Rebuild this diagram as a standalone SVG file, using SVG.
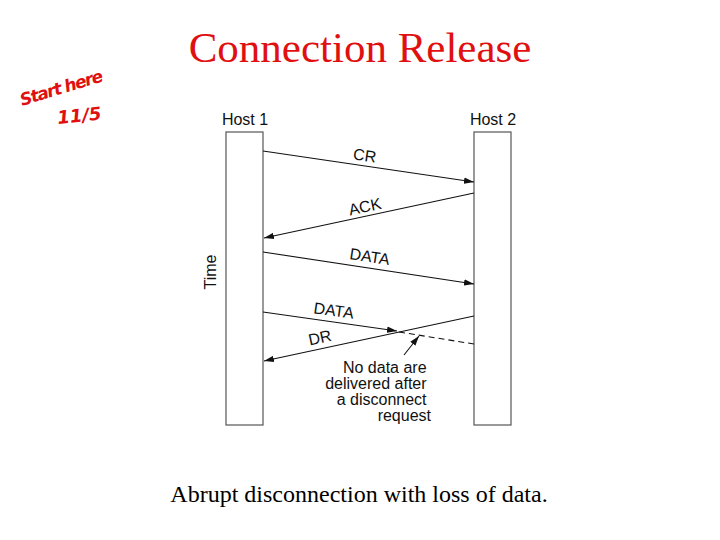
<svg xmlns="http://www.w3.org/2000/svg" width="720" height="540" viewBox="0 0 720 540">
<style>
.host{fill:#fff;stroke:#555;stroke-width:1.2}
.lbl{font-family:"Liberation Sans",Arial,sans-serif;font-size:16px;fill:#111}
.msg{stroke:#111;stroke-width:1.1;fill:none}
.dash{stroke:#111;stroke-width:1.1;fill:none;stroke-dasharray:6,4}
.title{font-family:"Liberation Serif","Times New Roman",serif;font-size:43px;fill:#e01010}
.cap{font-family:"Liberation Serif","Times New Roman",serif;font-size:24px;fill:#000}
.hand{font-family:"DejaVu Sans",sans-serif;font-style:italic;font-weight:bold;fill:#e01010}
</style>
<defs>
<marker id="ah" markerWidth="10" markerHeight="8" refX="10" refY="4" orient="auto" markerUnits="userSpaceOnUse">
<path d="M0,0.8 L10,4 L0,7.2 Z" fill="#111"/>
</marker>
</defs>
<rect width="720" height="540" fill="#fff"/>
<text class="title" x="360" y="62" text-anchor="middle">Connection Release</text>
<g id="annotation">
<text class="hand" font-size="17" x="22" y="106" textLength="86" transform="rotate(-17 22 106)">Start here</text>
<text class="hand" font-size="18" x="58" y="124" transform="rotate(-6 58 124)">11/5</text>
</g>
<g id="host1">
<text class="lbl" x="245" y="125" text-anchor="middle">Host 1</text>
<rect class="host" x="226" y="132" width="37" height="293"/>
</g>
<g id="host2">
<text class="lbl" x="493" y="125" text-anchor="middle">Host 2</text>
<rect class="host" x="474" y="132" width="37" height="293"/>
</g>
<text class="lbl" x="0" y="0" text-anchor="middle" transform="translate(216 272) rotate(-90)">Time</text>
<g id="connectors">
<line class="msg" x1="263" y1="151" x2="474" y2="182" marker-end="url(#ah)"/>
<text class="lbl" x="364" y="161" text-anchor="middle" transform="rotate(8.3 364 161)">CR</text>
<line class="msg" x1="474" y1="193" x2="264" y2="238" marker-end="url(#ah)"/>
<text class="lbl" x="366" y="212" text-anchor="middle" transform="rotate(-12 366 212)">ACK</text>
<line class="msg" x1="263" y1="252" x2="474" y2="284" marker-end="url(#ah)"/>
<text class="lbl" x="369" y="262" text-anchor="middle" transform="rotate(8.6 369 262)">DATA</text>
<line class="msg" x1="263" y1="312" x2="397" y2="331" marker-end="url(#ah)"/>
<line class="dash" x1="399" y1="332" x2="474" y2="344"/>
<text class="lbl" x="333" y="316" text-anchor="middle" transform="rotate(8 333 316)">DATA</text>
<line class="msg" x1="474" y1="316" x2="264" y2="361" marker-end="url(#ah)"/>
<text class="lbl" x="321" y="343" text-anchor="middle" transform="rotate(-12 321 343)">DR</text>
<line class="msg" x1="404" y1="355" x2="419" y2="336" marker-end="url(#ah)"/>
</g>
<g id="note">
<text class="lbl" text-anchor="end">
<tspan x="431" y="373">No data are</tspan>
<tspan x="431" y="389">delivered after</tspan>
<tspan x="431" y="405">a disconnect</tspan>
<tspan x="431" y="421">request</tspan>
</text>
</g>
<text class="cap" x="359" y="502" text-anchor="middle">Abrupt disconnection with loss of data.</text>
</svg>
